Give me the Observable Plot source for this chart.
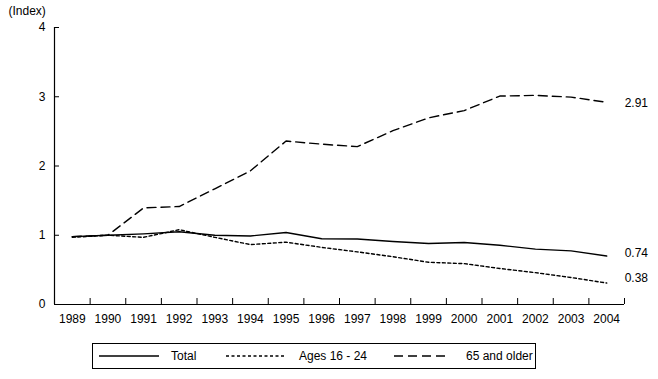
<!DOCTYPE html>
<html>
<head>
<meta charset="utf-8">
<script src="https://cdn.jsdelivr.net/npm/d3@7"></script>
<script src="https://cdn.jsdelivr.net/npm/@observablehq/plot@0.6"></script>
<style>
  html, body { margin: 0; padding: 0; background: #fff; }
  body { width: 658px; height: 379px; position: relative; font-family: "Liberation Sans", Arial, sans-serif; font-size: 12px; color: #000; }
  #legend { position: absolute; left: 92px; top: 343px; width: 444px; height: 26px; border: 1px solid #000; box-sizing: border-box; }
  .item { position: absolute; top: 0; height: 100%; display: flex; align-items: center; }
  .item svg { display: block; }
</style>
</head>
<body>
<div id="chart"></div>
<div id="legend"></div>
<script>
const years = [1989, 1990, 1991, 1992, 1993, 1994, 1995, 1996, 1997, 1998, 1999, 2000, 2001, 2002, 2003, 2004];
const total = [0.98, 1.00, 1.02, 1.05, 1.00, 0.99, 1.04, 0.95, 0.945, 0.91, 0.88, 0.895, 0.855, 0.80, 0.775, 0.70];
const young = [0.97, 1.00, 0.97, 1.08, 0.97, 0.865, 0.90, 0.825, 0.76, 0.69, 0.61, 0.59, 0.52, 0.46, 0.39, 0.31];
const older = [0.98, 1.00, 1.395, 1.415, 1.67, 1.93, 2.36, 2.315, 2.28, 2.51, 2.695, 2.80, 3.01, 3.02, 2.995, 2.92];
const seriesNames = ["Total", "Ages 16 - 24", "65 and older"];
const endLabels = ["0.74", "0.38", "2.91"];
const endValues = [0.74, 0.38, 2.91];
const yTicks = [0, 1, 2, 3, 4];
const yAxisTitle = "(Index)";

const dashes = ["none", "3,2.5", "9,5"];
const seriesValues = [total, young, older];
const boundaries = years.map(y => y + 0.5);

const lineMarks = seriesValues.map((vals, i) =>
  Plot.line(years.map((yr, j) => ({year: yr, value: vals[j]})), {
    x: "year", y: "value", stroke: "#000", strokeWidth: 1.4,
    strokeDasharray: dashes[i], curve: "linear"
  })
);

const labelData = endLabels.map((t, i) => ({year: years[years.length - 1], value: endValues[i], text: t}));

const chart = Plot.plot({
  width: 658,
  height: 335,
  marginLeft: 54,
  marginRight: 34,
  marginTop: 27,
  marginBottom: 31,
  style: {fontFamily: "'Liberation Sans', Arial, sans-serif", fontSize: "12px", color: "#000", background: "#fff"},
  x: {domain: [years[0] - 0.5, years[years.length - 1] + 0.5]},
  y: {domain: [yTicks[0], yTicks[yTicks.length - 1]]},
  marks: [
    Plot.axisY({ticks: yTicks, tickSize: 5, dx: 5, tickFormat: () => "", label: null, strokeWidth: 1}),
    Plot.axisY({ticks: yTicks, tickSize: 0, tickPadding: 9, tickFormat: d => String(d), label: null}),
    Plot.axisX({ticks: boundaries, tickSize: 6, dy: -6, tickFormat: () => "", label: null}),
    Plot.axisX({ticks: years, tickSize: 0, tickPadding: 10, tickFormat: d => String(d), label: null}),
    Plot.ruleX([years[0] - 0.5], {stroke: "#000", strokeWidth: 1.2}),
    Plot.ruleY([yTicks[0]], {stroke: "#000", strokeWidth: 1.2}),
    ...lineMarks,
    Plot.text(labelData, {x: "year", y: "value", text: "text", textAnchor: "start", dx: 18, fill: "#000"}),
    Plot.text([yAxisTitle], {frameAnchor: "top-left", dx: -46, dy: -21, textAnchor: "start", fill: "#000"})
  ]
});
document.getElementById("chart").appendChild(chart);

// Legend (HTML, below the SVG)
const legend = document.getElementById("legend");
const sampleLeft = [6, 133, 301];
const sampleWidth = [60, 58, 54];
const textLeft = [78, 206, 373];
seriesNames.forEach((name, i) => {
  const item = document.createElement("div");
  item.className = "item";
  item.style.left = sampleLeft[i] + "px";
  item.innerHTML = `<svg width="${sampleWidth[i]}" height="4"><line x1="0" y1="2" x2="${sampleWidth[i]}" y2="2" stroke="#000" stroke-width="1.6" ${dashes[i] === "none" ? "" : `stroke-dasharray="${dashes[i]}"`}/></svg>`;
  legend.appendChild(item);
  const label = document.createElement("div");
  label.className = "item";
  label.style.left = textLeft[i] + "px";
  label.textContent = name;
  legend.appendChild(label);
});
</script>
</body>
</html>
